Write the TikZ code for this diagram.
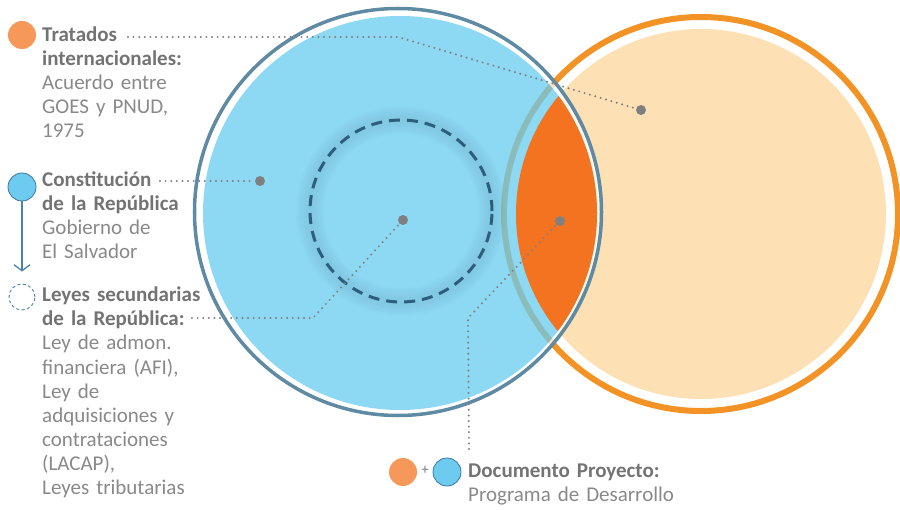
\documentclass[tikz,border=0pt]{standalone}
\usepackage{fontspec}
\setmainfont{Carlito}
\usepackage{xcolor}
\usepackage{tikz}
\usetikzlibrary{arrows.meta}

\definecolor{headgray}{RGB}{115,115,115}
\definecolor{bodygray}{RGB}{137,137,137}
\definecolor{dotgray}{RGB}{128,128,128}
\definecolor{ringblue}{RGB}{94,138,163}
\definecolor{fillblue}{RGB}{103,203,239}
\definecolor{dashblue}{RGB}{46,94,126}
\definecolor{ringorange}{RGB}{243,147,37}
\definecolor{peach}{RGB}{253,225,181}
\definecolor{lensorange}{RGB}{243,115,33}
\definecolor{iconorange}{RGB}{247,152,91}
\definecolor{iconblue}{RGB}{109,203,240}
\definecolor{iconedge}{RGB}{58,119,160}
\definecolor{arrowblue}{RGB}{74,130,168}

\newcommand{\headtxt}[1]{\textbf{\textcolor{headgray}{#1}}}

\begin{document}
\begin{tikzpicture}[
  x=1bp, y=-1bp,
  txt/.style={anchor=base west, inner sep=0pt, align=left, text width=190bp, text=bodygray,
    font=\fontsize{21bp}{24bp}\selectfont},
  dot/.style={circle, fill=dotgray, inner sep=0pt, minimum size=10bp},
  leader/.style={dotgray, line width=2.2bp, line cap=round, dash pattern=on 0pt off 5.6bp},
  icon/.style={circle, inner sep=0pt, minimum size=28bp},
  glow/.style={dashblue, opacity=0.022}
]
\useasboundingbox (0,0) rectangle (900,510);

% orange circle
\fill[peach] (701,214) circle[radius=185bp];
\draw[ringorange, line width=6bp] (701,214) circle[radius=197bp];

% blue circle, lightly see-through
\fill[white, opacity=0.75, even odd rule] (398,212) circle[radius=201.7bp] (400,213) circle[radius=197bp];
\fill[fillblue, opacity=0.75] (400,213) circle[radius=197bp];
\draw[ringblue, line width=3.5bp] (398,212) circle[radius=203.5bp];

% overlap
\begin{scope}
  \clip (400,213) circle[radius=197bp];
  \fill[lensorange] (701,214) circle[radius=185bp];
\end{scope}

% inner dashed ring with its halo
\foreach \w in {28,23,18,13,8}
  \draw[glow, line width=\w bp] (401,211) circle[radius=91bp];
\draw[dashblue, line width=3bp, dash pattern=on 11bp off 7bp] (401,211) circle[radius=91bp];

% markers
\node[dot] (dotTratados) at (641,110) {};
\node[dot] (dotConst) at (260,181) {};
\node[dot] (dotLeyes) at (403,220) {};
\node[dot] (dotDoc) at (560,221) {};

% left column
\node[icon, fill=iconorange] (iconTratados) at (22,35) {};
\node[txt] (tratados) at (42,42) {\headtxt{Tratados}\\\headtxt{internacionales:}\\Acuerdo entre\\GOES y PNUD,\\1975};

\node[icon, fill=iconblue, draw=iconedge, line width=0.8bp] (iconConst) at (22,187) {};
\node[txt] (const) at (42,187) {\headtxt{Constitución}\\\headtxt{de la República}\\Gobierno de\\El Salvador};

\node[icon, minimum size=26bp, draw=arrowblue, line width=0.9bp, dash pattern=on 3bp off 2.5bp] (iconLeyes) at (22,297) {};
\node[txt] (leyes) at (42,302) {\headtxt{Leyes secundarias}\\\headtxt{de la República:}\\Ley de admon.\\financiera (AFI),\\Ley de\\adquisiciones y\\contrataciones\\(LACAP),\\Leyes tributarias};

\draw[arrowblue, line width=1.3bp, -{Straight Barb[length=6bp, width=16bp]}, shorten >=12bp] (iconConst) -- (iconLeyes);

% bottom label
\node[icon, fill=iconorange] (iconDocA) at (403,472) {};
\node[text=dotgray, inner sep=0pt, font=\fontsize{15bp}{15bp}\selectfont] (plus) at (425,470) {+};
\node[icon, fill=iconblue, draw=iconedge, line width=0.8bp] (iconDocB) at (447,472) {};
\node[txt, text width=260bp] (doc) at (468,477) {\headtxt{Documento Proyecto:}\\Programa de Desarrollo};

% leader lines
\coordinate (tratadosEnd) at (128,37);
\coordinate (tratadosBend) at (398,37);
\coordinate (constEnd) at (160,181);
\coordinate (leyesEnd) at (192,318);
\coordinate (leyesBend) at (313,318);
\coordinate (docEnd) at (469,449);
\coordinate (docBend) at (468,318);

\draw[leader] (tratadosEnd) -- (tratadosBend) -- (dotTratados);
\draw[leader] (constEnd) -- (dotConst);
\draw[leader] (leyesEnd) -- (leyesBend) -- (dotLeyes);
\draw[leader] (docEnd) -- (docBend) -- (dotDoc);
\end{tikzpicture}
\end{document}
